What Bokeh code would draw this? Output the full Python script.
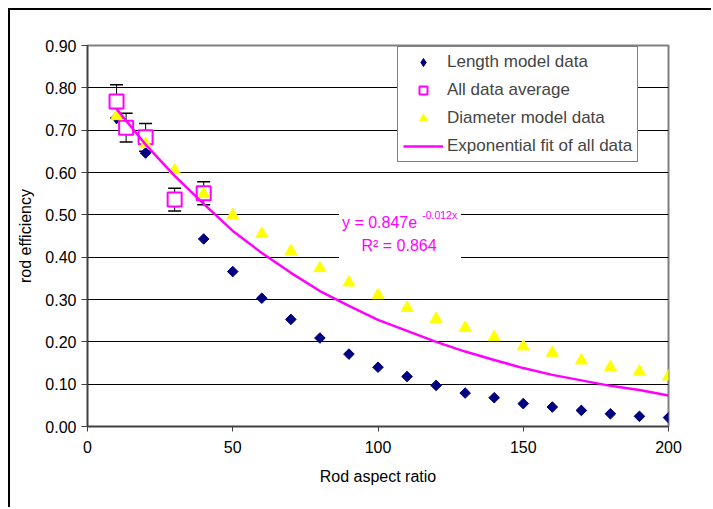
import numpy as np
from bokeh.plotting import figure
from bokeh.models import (Range1d, FixedTicker, NumeralTickFormatter, Legend, LegendItem,
                          Label, BoxAnnotation, Whisker, ColumnDataSource, TeeHead)
from bokeh.embed import file_html
from bokeh.resources import INLINE

# ---- data ----
x_model = [10, 20, 30, 40, 50, 60, 70, 80, 90, 100, 110, 120, 130, 140, 150, 160, 170, 180, 190, 200]
length_model = [0.730, 0.646, 0.535, 0.443, 0.366, 0.303, 0.253, 0.209, 0.171, 0.140, 0.118, 0.097,
                0.079, 0.068, 0.054, 0.046, 0.038, 0.030, 0.024, 0.021]
diameter_model = [0.733, 0.667, 0.605, 0.549, 0.499, 0.455, 0.414, 0.374, 0.340, 0.310, 0.280, 0.254,
                  0.233, 0.211, 0.189, 0.174, 0.156, 0.140, 0.130, 0.118]
fit_values = [0.750, 0.666, 0.592, 0.526, 0.462, 0.410, 0.363, 0.320, 0.285, 0.252, 0.226, 0.200,
              0.177, 0.157, 0.138, 0.122, 0.109, 0.096, 0.086, 0.073]
x_avg = [10, 13.3, 20, 30, 40]
avg_values = [0.768, 0.706, 0.683, 0.536, 0.551]
avg_err = [0.039, 0.034, 0.033, 0.027, 0.027]
x_ticks = [0, 50, 100, 150, 200]
y_ticks = [0.0, 0.1, 0.2, 0.3, 0.4, 0.5, 0.6, 0.7, 0.8, 0.9]

FONT = "Liberation Sans"

p = figure(width=703, height=499, output_backend="svg", toolbar_location=None,
           x_range=Range1d(0, 200), y_range=Range1d(0, 0.9),
           min_border_left=77, min_border_top=35, min_border_right=45, min_border_bottom=83,
           background_fill_color="white", border_fill_color="white")
p.styles = {"margin-left": "8px", "margin-top": "8px",
            "border-left": "2px solid #000000", "border-top": "2px solid #000000"}

p.outline_line_color = "#808080"
p.outline_line_width = 2
p.xgrid.visible = False
p.ygrid.ticker = FixedTicker(ticks=y_ticks)
p.ygrid.grid_line_color = "#000000"
p.ygrid.grid_line_width = 1

for ax in (p.xaxis[0], p.yaxis[0]):
    ax.axis_line_color = "#404040"
    ax.axis_line_width = 1.5
    ax.major_tick_line_color = "#404040"
    ax.major_tick_in = 0
    ax.minor_tick_line_color = None
    ax.major_label_text_font = FONT
    ax.major_label_text_font_size = "16px"
    ax.major_label_text_color = "#000000"
    ax.axis_label_text_font = FONT
    ax.axis_label_text_font_size = "16px"
    ax.axis_label_text_font_style = "normal"
    ax.axis_label_text_color = "#000000"

p.xaxis.ticker = FixedTicker(ticks=x_ticks)
p.xaxis.major_tick_out = 5
p.xaxis.major_label_standoff = 9
p.xaxis.axis_label = "Rod aspect ratio"
p.xaxis.axis_label_standoff = 12

p.yaxis.ticker = FixedTicker(ticks=y_ticks)
p.yaxis.formatter = NumeralTickFormatter(format="0.00")
p.yaxis.major_tick_out = 6
p.yaxis.major_label_standoff = 5
p.yaxis.axis_label = "rod efficiency"
p.yaxis.axis_label_standoff = 8

# error bars
lower = [v - e for v, e in zip(avg_values, avg_err)]
upper = [v + e for v, e in zip(avg_values, avg_err)]
err_src = ColumnDataSource(dict(x=x_avg, lower=lower, upper=upper))
wh = Whisker(source=err_src, base="x", lower="lower", upper="upper", dimension="height",
             line_color="black", line_width=1,
             upper_head=TeeHead(size=13, line_color="black", line_width=1.5),
             lower_head=TeeHead(size=13, line_color="black", line_width=1.5))
p.add_layout(wh)

# legend key glyph for the diamond symbol: drawn on the first (hidden) point only
r_len_key = p.scatter(x_model[:1], length_model[:1], marker="diamond", size=13,
                      fill_color="#000080", line_color="#000080")
r_len = p.scatter(x_model, length_model, marker="square", angle=np.pi / 4, size=7.5,
                  fill_color="#000080", line_color="#000080")
r_avg = p.scatter(x_avg, avg_values, marker="square", size=14, fill_color="white",
                  line_color="#FF00FF", line_width=2)
r_dia = p.scatter(x_model, diameter_model, marker="triangle", size=12,
                  fill_color="#FFFF00", line_color="#FFFF00")
r_fit = p.line(x_model, fit_values, line_color="#FF00FF", line_width=2.5)

# equation box
box = BoxAnnotation(left=86.6, right=128.6, bottom=0.385, top=0.52,
                    fill_color="white", fill_alpha=1.0, line_color=None)
p.add_layout(box)
p.add_layout(Label(x=87.6, y=0.483, text="y = 0.847e", text_font=FONT, text_font_size="16px",
                   text_color="#FF00FF", text_baseline="alphabetic"))
p.add_layout(Label(x=115.2, y=0.4985, text="-0.012x", text_font=FONT, text_font_size="10.5px",
                   text_color="#FF00FF", text_baseline="alphabetic"))
p.add_layout(Label(x=94.3, y=0.4276, text="R² = 0.864", text_font=FONT, text_font_size="16px",
                   text_color="#FF00FF", text_baseline="alphabetic"))

legend = Legend(items=[
    LegendItem(label="Length model data", renderers=[r_len_key]),
    LegendItem(label="All data average", renderers=[r_avg]),
    LegendItem(label="Diameter model data", renderers=[r_dia]),
    LegendItem(label="Exponential fit of all data", renderers=[r_fit]),
], location=(310, 264))
legend.margin = 0
legend.padding = 5
legend.spacing = 8
legend.glyph_height = 20
legend.label_height = 20
legend.glyph_width = 40
legend.label_standoff = 4
legend.label_text_font = FONT
legend.label_text_font_size = "17px"
legend.border_line_color = "black"
legend.border_line_width = 1
legend.background_fill_color = "white"
legend.background_fill_alpha = 1.0
p.add_layout(legend)

open("out.html", "w").write(file_html(p, INLINE))
